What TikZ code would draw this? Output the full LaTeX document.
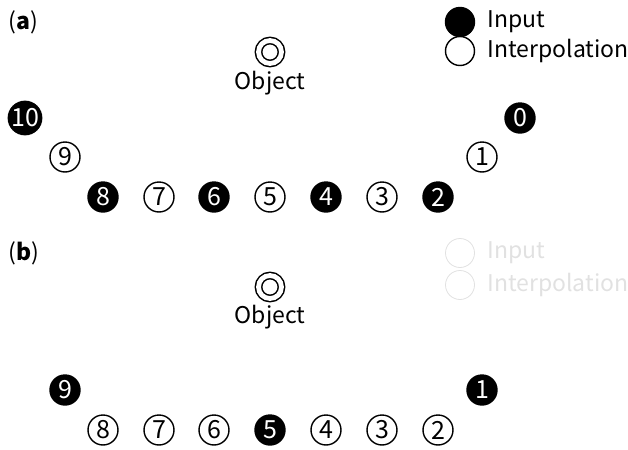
\documentclass[tikz,border=0pt]{standalone}
\usepackage{fontspec}
\setmainfont{Noto Sans CJK JP}
\usepackage{tikz}
\usetikzlibrary{positioning}
\definecolor{ghostgray}{RGB}{225,225,225}

\begin{document}
\begin{tikzpicture}[x=0.5pt, y=-0.5pt,
    font=\fontsize{11.5}{13}\selectfont,
    input/.style={circle, fill=black, draw=black, line width=0.7pt, text=white, minimum size=15pt, inner sep=0pt, font=\fontsize{12.5}{13}\selectfont},
    interp/.style={circle, fill=white, draw=black, line width=0.7pt, minimum size=15pt, inner sep=0pt, font=\fontsize{12.5}{13}\selectfont},
    objmark/.style={circle, draw=black, double=white, double distance=2.4pt, line width=0.75pt, minimum size=11.5pt, inner sep=0pt},
    legtext/.style={anchor=west, inner sep=0pt},
    ghost/.style={circle, draw=ghostgray, line width=0.4pt, minimum size=14.5pt, inner sep=0pt}
]
\useasboundingbox (0,0) rectangle (628,450);

% (a) interpolation between every input view
\node[anchor=west, inner sep=0pt] (tagA) at (8,22) {(\textbf{a})};
\node[objmark] (objA) at (270,52) {};
\node (objtextA) at (270,83) {Object};

\node[input, minimum size=14.5pt] (legInA) at (460,22) {};
\node[legtext, right=6pt of legInA.east, anchor=west] (legInTextA) {Input};
\node[interp, minimum size=14.5pt] (legIpA) at (460,51) {};
\node[legtext, right=6pt of legIpA.east, anchor=west] (legIpTextA) {Interpolation};

\node[input] (a0) at (520,118) {0};
\node[interp] (a1) at (482,157) {1};
\node[input] (a2) at (438,197) {2};
\node[interp] (a3) at (382,197) {3};
\node[input] (a4) at (326,197) {4};
\node[interp] (a5) at (270,197) {5};
\node[input] (a6) at (214,197) {6};
\node[interp] (a7) at (159,197) {7};
\node[input] (a8) at (103,197) {8};
\node[interp] (a9) at (65,157) {9};
\node[input] (a10) at (25,118) {10};

% (b) sparse inputs
\node[anchor=west, inner sep=0pt] (tagB) at (8,253) {(\textbf{b})};
\node[objmark] (objB) at (270,287) {};
\node (objtextB) at (270,317) {Object};

\node[ghost] (legInB) at (460,253) {};
\node[legtext, text=ghostgray, right=6pt of legInB.east, anchor=west] (legInTextB) {Input};
\node[ghost] (legIpB) at (460,285) {};
\node[legtext, text=ghostgray, right=6pt of legIpB.east, anchor=west] (legIpTextB) {Interpolation};

\node[input] (b1) at (482,390) {1};
\node[interp] (b2) at (438,430) {2};
\node[interp] (b3) at (382,430) {3};
\node[interp] (b4) at (326,430) {4};
\node[input] (b5) at (270,430) {5};
\node[interp] (b6) at (214,430) {6};
\node[interp] (b7) at (159,430) {7};
\node[interp] (b8) at (103,430) {8};
\node[input] (b9) at (65,390) {9};

\end{tikzpicture}
\end{document}
